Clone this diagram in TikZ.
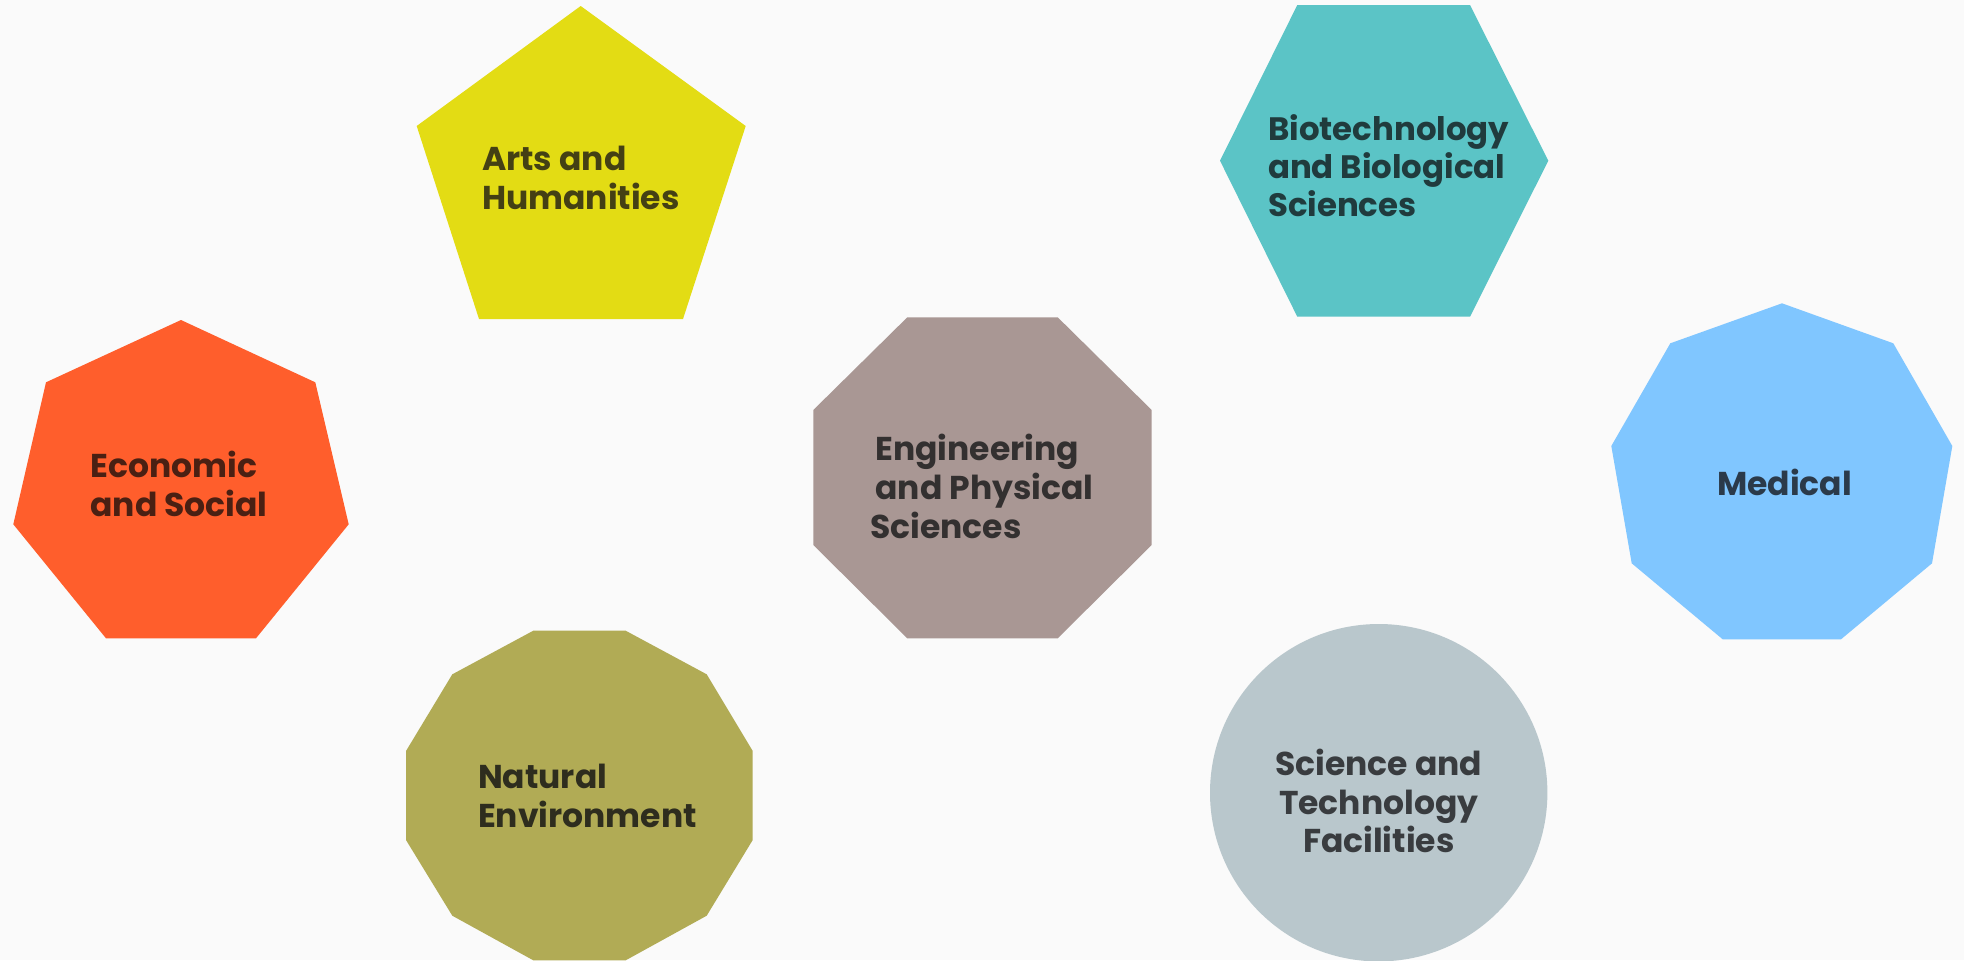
\documentclass[tikz,border=0pt]{standalone}
\usepackage{fontspec}
\setmainfont{Poppins}
\definecolor{bg}{HTML}{FAFAFA}
\definecolor{cArts}{HTML}{E3DC14}
\definecolor{tArts}{HTML}{444014}
\definecolor{cBio}{HTML}{5BC4C6}
\definecolor{tBio}{HTML}{203B3D}
\definecolor{cEco}{HTML}{FF5E2C}
\definecolor{tEco}{HTML}{4A2013}
\definecolor{cEng}{HTML}{A99794}
\definecolor{tEng}{HTML}{333030}
\definecolor{cMed}{HTML}{80C6FF}
\definecolor{tMed}{HTML}{2B3A4A}
\definecolor{cNat}{HTML}{B1AB55}
\definecolor{tNat}{HTML}{2E2D1E}
\definecolor{cSci}{HTML}{B9C7CC}
\definecolor{tSci}{HTML}{393C3F}
\tikzset{
  lbl/.style={inner sep=0pt, font=\bfseries\fontsize{16.5}{19.5}\selectfont, align=left, anchor=base west},
  lblc/.style={inner sep=0pt, font=\bfseries\fontsize{16.5}{19.2}\selectfont, align=center, anchor=base},
}
\begin{document}
\begin{tikzpicture}[x=0.5pt,y=-0.5pt]
\fill[bg] (0,0) rectangle (1964,960);
\useasboundingbox (0,0) rectangle (1964,960);
\clip (0,0) rectangle (1964,960);
% Arts and Humanities (pentagon)
\fill[cArts] (580.7,6) -- (745.7,126) -- (683,319) -- (479,319) -- (416.7,126) -- cycle;
\node[lbl, text=tArts] (arts) at (481.7,209) {Arts and\\Humanities};
% Biotechnology (hexagon)
\fill[cBio] (1297.3,5) -- (1470,5) -- (1548.3,160.7) -- (1470,316.7) -- (1297.3,316.7) -- (1220,160.7) -- cycle;
\node[lbl, text=tBio, font=\bfseries\fontsize{16.2}{18.8}\selectfont] (bio) at (1267.7,216) {Biotechnology\\and Biological\\Sciences};
% Economic and Social (heptagon)
\fill[cEco] (181,320) -- (315.3,382.3) -- (348.7,524.3) -- (256,638.3) -- (106,638.3) -- (13.3,524.3) -- (46,382.3) -- cycle;
\node[lbl, text=tEco] (eco) at (90,516.7) {Economic\\and Social};
% Engineering and Physical Sciences (octagon)
\fill[cEng] (907.3,317.3) -- (1057.7,317.3) -- (1151.7,410) -- (1151.7,545) -- (1057.7,638.3) -- (907.3,638.3) -- (813.3,545) -- (813.3,410) -- cycle;
\node[lbl, text=tEng] (eng) at (875,538.3) {Engineering\\and Physical\\\hspace*{-2.5pt}Sciences};
% Medical (nonagon)
\fill[cMed] (1782,303.3) -- (1893.3,343.3) -- (1952.3,446) -- (1932,563.3) -- (1841,639.3) -- (1722.7,639.3) -- (1631.7,563.3) -- (1611.3,446) -- (1670.3,343.3) -- cycle;
\node[lbl, text=tMed] (med) at (1716.7,495.7) {Medical};
% Natural Environment (decagon)
\fill[cNat] (533.3,630.7) -- (625.7,630.7) -- (706.7,674.3) -- (752.7,751) -- (752.7,840) -- (706.7,915.7) -- (625.7,960.3) -- (533.3,960.3) -- (452.3,915.7) -- (406,840) -- (406,751) -- (452.3,674.3) -- cycle;
\node[lbl, text=tNat] (nat) at (477.7,827.7) {Natural\\Environment};
% Science and Technology Facilities (circle)
\fill[cSci] (1378.7,792.7) circle[radius=168.7];
\node[lblc, text=tSci] (sci) at (1378.8,852.7) {Science and\\Technology\\Facilities};
\end{tikzpicture}
\end{document}
